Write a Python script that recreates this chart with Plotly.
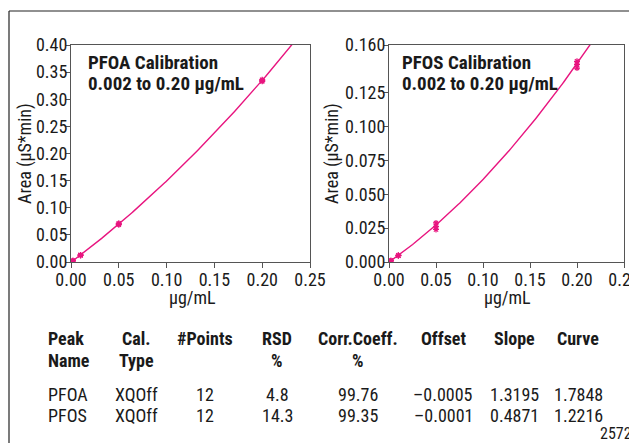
import numpy as np
import plotly.graph_objects as go

# ---- data ----
conc_pfoa = [0.002, 0.002, 0.002, 0.01, 0.01, 0.01, 0.05, 0.05, 0.05, 0.2, 0.2, 0.2]
area_pfoa = [0.0019, 0.0021, 0.0023, 0.0122, 0.0126, 0.0130, 0.0688, 0.0700, 0.0712, 0.3330, 0.3345, 0.3360]
conc_pfos = [0.002, 0.002, 0.002, 0.01, 0.01, 0.01, 0.05, 0.05, 0.05, 0.2, 0.2, 0.2]
area_pfos = [0.0008, 0.0009, 0.0010, 0.0046, 0.0048, 0.0050, 0.0240, 0.0263, 0.0288, 0.1430, 0.1457, 0.1480]

peak_names = ["PFOA", "PFOS"]
cal_types = ["XQOff", "XQOff"]
n_points = [12, 12]
rsd = ["4.8", "14.3"]
corr = ["99.76", "99.35"]
offset = [-0.0005, -0.0001]
slope = [1.3195, 0.4871]
curve = [1.7848, 1.2216]

header_line1 = ["Peak", "Cal.", "#Points", "RSD", "Corr.Coeff.", "Offset", "Slope", "Curve"]
header_line2 = ["Name", "Type", "", "%", "%", "", "", ""]

pfoa_yticks = [0.0, 0.05, 0.10, 0.15, 0.20, 0.25, 0.30, 0.35, 0.40]
pfos_yticks = [0.0, 0.025, 0.050, 0.075, 0.100, 0.125, 0.160]
xticks = [0.0, 0.05, 0.10, 0.15, 0.20, 0.25]

PINK = "#E8157F"
INK = "#1a1a1a"
FONT = "Liberation Sans Narrow, Roboto Condensed, DejaVu Sans Condensed, Arial Narrow, sans-serif"
OFF = 8                      # page body margin
W, H = 637 - OFF, 443 - OFF
TICKFS = 18

def px(x):
    return (x - OFF) / W

def py(y):
    return 1 - (y - OFF) / H

fig = go.Figure()

for i, (xa, ya, xref, yref) in enumerate([
        (conc_pfoa, area_pfoa, "x", "y"),
        (conc_pfos, area_pfos, "x2", "y2")]):
    xs = np.linspace(0, 0.25, 200)
    ys = offset[i] + slope[i] * xs + curve[i] * xs ** 2
    fig.add_trace(go.Scatter(x=xs, y=ys, mode="lines", xaxis=xref, yaxis=yref,
                             line=dict(color=PINK, width=1.4), showlegend=False,
                             hoverinfo="skip"))
    fig.add_trace(go.Scatter(x=xa, y=ya, mode="markers", xaxis=xref, yaxis=yref,
                             marker=dict(symbol="asterisk-open", size=5, color=PINK,
                                         line=dict(color=PINK, width=1.2)),
                             showlegend=False, name=peak_names[i]))

axis_common = dict(showline=True, linecolor="#555555", linewidth=1, mirror=True,
                   ticks="outside", tickcolor="#555555", showgrid=False,
                   zeroline=False, automargin=False, ticklabeloverflow="allow",
                   tickfont=dict(family=FONT, size=TICKFS, color=INK))

fig.update_layout(
    width=W, height=H, margin=dict(l=0, r=0, t=0, b=0), autosize=False,
    paper_bgcolor="white", plot_bgcolor="white",
    font=dict(family=FONT, size=TICKFS, color=INK),
    xaxis=dict(domain=[px(71), px(310)], range=[0, 0.25], tickvals=xticks,
               ticktext=[f"{v:.2f}" for v in xticks], anchor="y", ticklen=5,
               ticklabelstandoff=-4, **axis_common),
    yaxis=dict(domain=[py(262), py(45)], range=[0, 0.40], tickvals=pfoa_yticks,
               ticktext=[f"{v:.2f}" for v in pfoa_yticks], anchor="x", ticklen=4,
               ticklabelstandoff=-5, **axis_common),
    xaxis2=dict(domain=[px(389), px(624)], range=[0, 0.25], tickvals=xticks,
                ticktext=[f"{v:.2f}" for v in xticks], anchor="y2", ticklen=5,
                ticklabelstandoff=-4, **axis_common),
    yaxis2=dict(domain=[py(262), py(45)], range=[0, 0.16], tickvals=pfos_yticks,
                ticktext=[f"{v:.3f}" for v in pfos_yticks], anchor="x2", ticklen=4,
                ticklabelstandoff=-5, **axis_common),
)

# axis titles
for xc in [192, 507]:
    fig.add_annotation(xref="paper", yref="paper", x=px(xc), y=py(297), xanchor="center",
                       yanchor="middle", showarrow=False, text="µg/mL",
                       font=dict(family=FONT, size=18, color=INK))
for xc in [25, 332]:
    fig.add_annotation(xref="paper", yref="paper", x=px(xc), y=py(154), xanchor="center",
                       yanchor="middle", showarrow=False, text="Area (µS*min)", textangle=-90,
                       font=dict(family=FONT, size=18, color=INK))

# outer frame (left and top edges)
fig.add_shape(type="line", xref="paper", yref="paper", x0=px(9), x1=px(9), y0=-0.1, y1=py(11),
              line=dict(color="#222222", width=1.2))
fig.add_shape(type="line", xref="paper", yref="paper", x0=px(9), x1=1.1, y0=py(11), y1=py(11),
              line=dict(color="#222222", width=1.2))

# in-plot titles
for xl, name in [(86, "PFOA"), (400, "PFOS")]:
    fig.add_annotation(xref="paper", yref="paper", x=px(xl), y=py(63), xanchor="left",
                       yanchor="middle", showarrow=False, text=f"<b>{name} Calibration</b>",
                       font=dict(family=FONT, size=19, color=INK))
    fig.add_annotation(xref="paper", yref="paper", x=px(xl), y=py(83), xanchor="left",
                       yanchor="middle", showarrow=False, text="<b>0.002 to 0.20 µg/mL</b>",
                       font=dict(family=FONT, size=19, color=INK))

# table
col_x = [46, 136, 205, 277, 358, 443, 514, 578]
col_anchor = ["left"] + ["center"] * 7
TFS = 18
for j in range(len(col_x)):
    for txt, yy in [(header_line1[j], 338), (header_line2[j], 360)]:
        if txt:
            fig.add_annotation(xref="paper", yref="paper", x=px(col_x[j]), y=py(yy),
                               xanchor=col_anchor[j], yanchor="middle", showarrow=False,
                               text=f"<b>{txt}</b>", font=dict(family=FONT, size=TFS, color=INK))

row_y = [394, 415]
for i in range(2):
    cells = [peak_names[i], cal_types[i], str(n_points[i]), rsd[i], corr[i],
             f"{offset[i]:.4f}".replace("-", "\u2013"), f"{slope[i]:.4f}", f"{curve[i]:.4f}"]
    for j, text in enumerate(cells):
        fig.add_annotation(xref="paper", yref="paper", x=px(col_x[j]), y=py(row_y[i]),
                           xanchor=col_anchor[j], yanchor="middle", showarrow=False,
                           text=text, font=dict(family=FONT, size=TFS, color=INK))

fig.add_annotation(xref="paper", yref="paper", x=px(598), y=py(433), xanchor="left",
                   yanchor="middle", showarrow=False, text="25720",
                   font=dict(family=FONT, size=16, color=INK))

fig.write_html("out.html")
